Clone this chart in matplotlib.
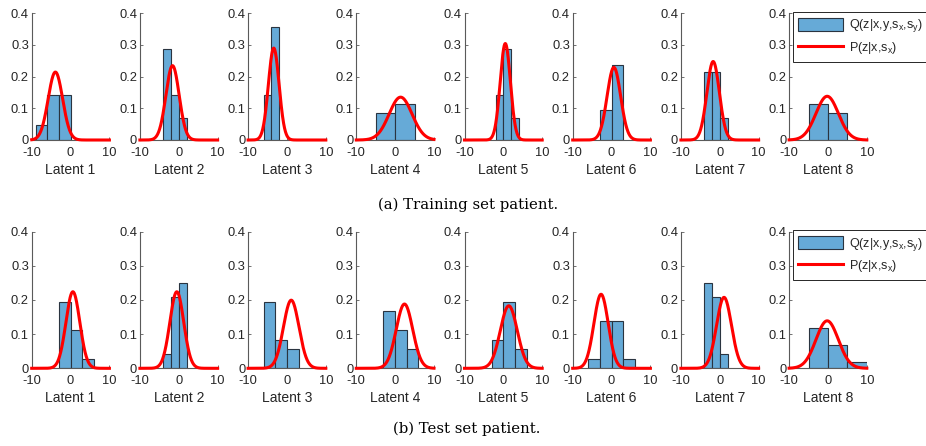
import numpy as np
import matplotlib
matplotlib.use("Agg")
import matplotlib.pyplot as plt
from matplotlib.patches import Patch
from matplotlib.lines import Line2D

plt.rcParams['font.family'] = ['Liberation Sans', 'DejaVu Sans']
plt.rcParams['mathtext.default'] = 'regular'

latent_labels = ["Latent 1", "Latent 2", "Latent 3", "Latent 4",
                 "Latent 5", "Latent 6", "Latent 7", "Latent 8"]
x_ticks = [-10, 0, 10]
x_tick_labels = ['-10', '0', '10']
y_ticks = [0, 0.1, 0.2, 0.3, 0.4]
y_tick_labels = ['0', '0.1', '0.2', '0.3', '0.4']

# Training set patient: histogram bin edges and pdf heights of Q
train_edges = [[-9, -6, -3, 0], [-4, -2, 0, 2], [-6, -4, -2], [-5, 0, 5],
               [-2, 0, 2, 4], [-3, 0, 3], [-4, -2, 0, 2], [-5, 0, 5]]
train_heights = [[0.048, 0.143, 0.143], [0.286, 0.143, 0.071], [0.143, 0.357],
                 [0.086, 0.114], [0.143, 0.286, 0.071], [0.095, 0.238],
                 [0.214, 0.214, 0.071], [0.114, 0.086]]
# Prior P: gaussian mean and std
train_mu = [-3.9, -1.6, -3.4, 1.4, 0.5, 0.6, -1.7, -0.2]
train_sd = [1.86, 1.70, 1.375, 2.95, 1.31, 1.74, 1.61, 2.89]

# Test set patient
test_edges = [[-3, 0, 3, 6], [-4, -2, 0, 2], [-6, -3, 0, 3], [-3, 0, 3, 6],
              [-3, 0, 3, 6], [-6, -3, 0, 3, 6], [-4, -2, 0, 2], [-5, 0, 5, 10]]
test_heights = [[0.194, 0.111, 0.028], [0.042, 0.208, 0.250], [0.194, 0.083, 0.056],
                [0.167, 0.111, 0.056], [0.083, 0.194, 0.056],
                [0.028, 0.139, 0.139, 0.028], [0.250, 0.208, 0.042],
                [0.117, 0.067, 0.017]]
test_mu = [0.6, -0.5, 1.1, 2.4, 1.4, -2.7, 1.1, -0.2]
test_sd = [1.78, 1.78, 2.0, 2.12, 2.18, 1.84, 1.92, 2.87]

legend_labels = [r'Q(z|x,y,s$_x$,s$_y$)', r'P(z|x,s$_x$)']
captions = ["(a) Training set patient.", "(b) Test set patient."]

W, H = 926, 446
fig = plt.figure(figsize=(W / 100, H / 100), dpi=100)

bar_color = '#66AAD7'
edge_color = '#2a3440'
axis_color = '#5a5a5a'
text_color = '#262626'

rows = [
    dict(edges=train_edges, heights=train_heights, mu=train_mu, sd=train_sd,
         top=13.3, bottom=140.0),
    dict(edges=test_edges, heights=test_heights, mu=test_mu, sd=test_sd,
         top=231.7, bottom=368.3),
]

left0 = 31.7
step = 108.2
width = 77.7
xs = np.linspace(-10, 10, 500)

for r, row in enumerate(rows):
    for i in range(8):
        lx = left0 + i * step
        ax = fig.add_axes([lx / W, 1 - row['bottom'] / H, width / W,
                           (row['bottom'] - row['top']) / H])
        e = np.array(row['edges'][i], dtype=float)
        h = np.array(row['heights'][i])
        ax.bar(e[:-1], h, width=np.diff(e), align='edge', color=bar_color,
               edgecolor=edge_color, linewidth=0.8, zorder=2)
        mu, sd = row['mu'][i], row['sd'][i]
        pdf = np.exp(-0.5 * ((xs - mu) / sd) ** 2) / (sd * np.sqrt(2 * np.pi))
        ax.plot(xs, pdf, color='red', linewidth=2.2, zorder=3, clip_on=False)
        ax.set_xlim(-10, 10)
        ax.set_ylim(0, 0.4)
        ax.set_xticks(x_ticks)
        ax.set_xticklabels(x_tick_labels)
        ax.set_yticks(y_ticks)
        ax.set_yticklabels(y_tick_labels)
        ax.spines['top'].set_visible(False)
        ax.spines['right'].set_visible(False)
        for s in ('left', 'bottom'):
            ax.spines[s].set_color(axis_color)
            ax.spines[s].set_linewidth(0.8)
        ax.tick_params(direction='in', length=2.5, width=0.6, color=axis_color,
                       labelsize=9.3, labelcolor=text_color)
        ax.tick_params(axis='x', pad=5.0)
        ax.tick_params(axis='y', pad=2.0)
        ax.set_xlabel(latent_labels[i], fontsize=10, color=text_color, labelpad=3)
        if i == 7:
            handles = [Patch(facecolor=bar_color, edgecolor=edge_color, linewidth=0.8),
                       Line2D([0], [0], color='red', linewidth=2.2)]
            leg = ax.legend(handles, legend_labels, loc='upper left',
                            bbox_to_anchor=(792.5 / W, 1 - (row['top'] - 1.5) / H),
                            bbox_transform=fig.transFigure, borderaxespad=0,
                            fontsize=9.0, handlelength=3.6, handleheight=1.2,
                            handletextpad=0.5, labelspacing=0.45, borderpad=0.45,
                            fancybox=False, framealpha=1, edgecolor='#262626')
            leg.get_frame().set_linewidth(0.7)
            for t in leg.get_texts():
                t.set_color(text_color)

fig.text(468 / W, 1 - 205 / H, captions[0], ha='center', va='center',
         fontsize=10.7, family='DejaVu Serif', color='black')
fig.text(467 / W, 1 - 429 / H, captions[1], ha='center', va='center',
         fontsize=10.7, family='DejaVu Serif', color='black')

fig.savefig('out.png', dpi=100)
